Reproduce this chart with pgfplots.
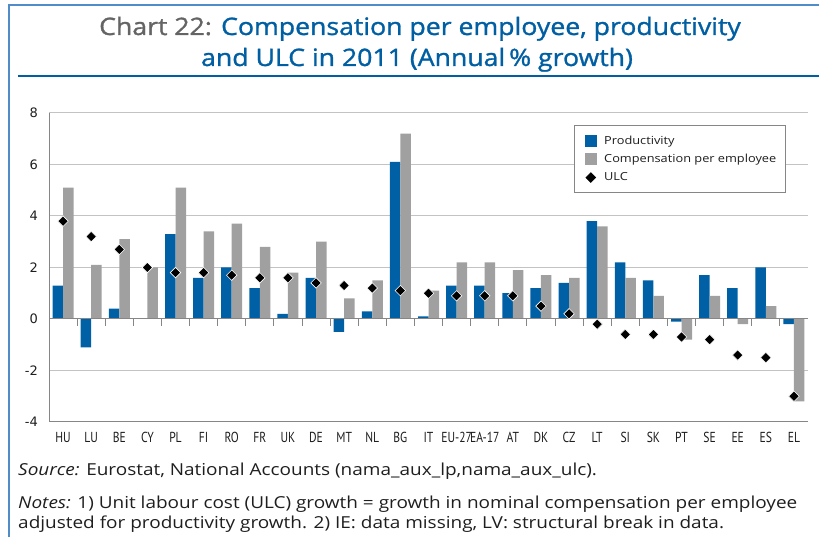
\documentclass[border=0pt]{standalone}
\usepackage{pgfplots}
\pgfplotsset{compat=1.18}
\usepackage{fontspec}
\setmainfont[FakeStretch=1.15]{Open Sans}
\newfontfamily\titlefont[FakeBold=1.2,FakeStretch=1.11]{Open Sans}
\newfontfamily\ynumfont{DejaVu Sans}
\newfontfamily\xcatfont[FakeStretch=0.8]{PT Sans}
\definecolor{eublue}{RGB}{0,94,162}
\definecolor{barblue}{RGB}{0,96,166}
\definecolor{bargray}{RGB}{160,160,160}
\definecolor{gridgray}{RGB}{195,195,195}
\definecolor{axisgray}{RGB}{134,134,134}
\definecolor{titlegray}{RGB}{100,100,100}
\definecolor{frameblue}{RGB}{80,140,200}
\definecolor{txt}{RGB}{30,30,30}
\begin{document}
\begin{tikzpicture}[x=1pt,y=1pt]
\path[use as bounding box] (0,0) rectangle (819,537);
\draw[frameblue, line width=1.5pt] (9,0) -- (9,532) -- (819,532);
\draw[eublue, line width=1.2pt] (18,461) -- (819,461);
\node[anchor=base, font=\titlefont\fontsize{24}{30}\selectfont, inner sep=0] at (420,502) {\textcolor{titlegray}{Chart 22:} \textcolor{eublue}{Compensation per employee, productivity}};
\node[anchor=base, font=\titlefont\fontsize{24}{30}\selectfont, inner sep=0] at (417,471) {\textcolor{eublue}{and ULC in 2011 (Annual\,\% growth)}};
\node[anchor=base west, font=\fontsize{16.5}{20}\selectfont, text=txt, inner sep=0] at (18,61) {\textit{Source:} Eurostat, National Accounts (nama\_aux\_lp,nama\_aux\_ulc).};
\node[anchor=base west, font=\fontsize{16.5}{20}\selectfont, text=txt, inner sep=0] at (18,28) {\textit{Notes:} 1) Unit labour cost (ULC) growth = growth in nominal compensation per employee};
\node[anchor=base west, font=\fontsize{16.5}{20}\selectfont, text=txt, inner sep=0] at (18,8) {adjusted for productivity growth. 2) IE: data missing, LV: structural break in data.};

\begin{axis}[
  at={(49pt,115pt)}, anchor=south west, scale only axis,
  width=759pt, height=309pt,
  xmin=-0.5, xmax=26.5, ymin=-4, ymax=8,
  ytick={-4,-2,0,2,4,6,8},
  xtick={0,...,26},
  xticklabels={HU,LU,BE,CY,PL,FI,RO,FR,UK,DE,MT,NL,BG,IT,EU-27,EA-17,AT,DK,CZ,LT,SI,SK,PT,SE,EE,ES,EL},
  axis y line*=left, axis x line*=bottom,
  axis line style={axisgray, line width=1pt},
  major tick length=0pt,
  ymajorgrids, grid style={gridgray, line width=1pt},
  /pgf/number format/assume math mode=true,
  yticklabel style={font=\ynumfont\fontsize{13}{13}\selectfont, text=txt, anchor=east, inner sep=0pt, xshift=-11pt},
  xticklabel style={font=\xcatfont\fontsize{14.5}{14}\selectfont, text=txt, anchor=base, inner sep=0pt, yshift=-21pt},
  legend style={at={(0.6917,0.961)}, anchor=north west, draw=axisgray, line width=0.8pt,
    font=\fontsize{11.1}{15}\selectfont, text=txt, inner xsep=7pt, inner ysep=8.5pt, row sep=4.5pt,
    nodes={inner sep=2pt},
    /tikz/every odd column/.append style={column sep=5pt}},
  legend cell align=left,
  clip=false,
]
\addplot[ybar, bar width=10.5pt, bar shift=-5.25pt, fill=barblue, draw=none,
  legend image code/.code={\fill[barblue] (3pt,-6pt) rectangle (15pt,6pt);}]
  coordinates {(0,1.3) (1,-1.1) (2,0.4) (3,0.02) (4,3.3) (5,1.6) (6,2.0) (7,1.2) (8,0.2) (9,1.6) (10,-0.5) (11,0.3) (12,6.1) (13,0.1) (14,1.3) (15,1.3) (16,1.0) (17,1.2) (18,1.4) (19,3.8) (20,2.2) (21,1.5) (22,-0.1) (23,1.7) (24,1.2) (25,2.0) (26,-0.2)};
\addlegendentry{Productivity}
\addplot[ybar, bar width=10.5pt, bar shift=5.25pt, fill=bargray, draw=none,
  legend image code/.code={\fill[bargray] (3pt,-6pt) rectangle (15pt,6pt);}]
  coordinates {(0,5.1) (1,2.1) (2,3.1) (3,2.0) (4,5.1) (5,3.4) (6,3.7) (7,2.8) (8,1.8) (9,3.0) (10,0.8) (11,1.5) (12,7.2) (13,1.1) (14,2.2) (15,2.2) (16,1.9) (17,1.7) (18,1.6) (19,3.6) (20,1.6) (21,0.9) (22,-0.8) (23,0.9) (24,-0.2) (25,0.5) (26,-3.2)};
\addlegendentry{Compensation per employee}
\pgfplotsinvokeforeach{0.5,1.5,...,25.5}{\draw[axisgray, line width=1pt] (axis cs:#1,0) -- ([yshift=-7pt]axis cs:#1,0);}
\draw[axisgray, line width=1pt] (axis cs:-0.5,0) -- (axis cs:26.5,0);
\addplot[only marks, mark=square*, mark size=3.7pt,
  mark options={rotate=45, fill=black, draw=white, line width=0.6pt},
  legend image code/.code={\fill[white] (0pt,-6pt) rectangle (15pt,6pt); \fill[black] (9pt,4.8pt) -- (13.8pt,0pt) -- (9pt,-4.8pt) -- (4.2pt,0pt) -- cycle;}]
  coordinates {(0,3.8) (1,3.2) (2,2.7) (3,2.0) (4,1.8) (5,1.8) (6,1.7) (7,1.6) (8,1.6) (9,1.4) (10,1.3) (11,1.2) (12,1.1) (13,1.0) (14,0.9) (15,0.9) (16,0.9) (17,0.5) (18,0.2) (19,-0.2) (20,-0.6) (21,-0.6) (22,-0.7) (23,-0.8) (24,-1.4) (25,-1.5) (26,-3.0)};
\addlegendentry{ULC}
\end{axis}
\end{tikzpicture}
\end{document}
